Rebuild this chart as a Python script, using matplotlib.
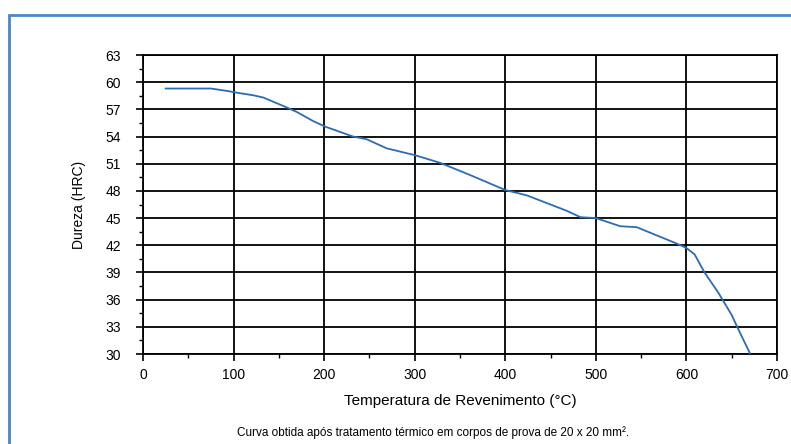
import matplotlib.pyplot as plt
from matplotlib.patches import Rectangle
from matplotlib.ticker import MultipleLocator

plt.rcParams['font.family'] = ['Liberation Sans', 'DejaVu Sans']

# tempering curve
temperatura = [25, 75, 95, 100, 122, 133, 159, 170, 188, 201, 232, 247, 269, 300,
               328, 360, 400, 424, 468, 483, 500, 527, 545, 589, 600, 609, 620,
               635, 650, 656, 670]
dureza = [59.3, 59.3, 59.0, 58.9, 58.55, 58.3, 57.2, 56.7, 55.7, 55.1, 54.0, 53.7,
          52.7, 51.95, 51.1, 49.8, 48.1, 47.5, 45.8, 45.1, 45.0, 44.1, 44.0, 42.2,
          41.7, 41.0, 39.0, 36.8, 34.3, 33.0, 30.1]

x_ticks = [0, 100, 200, 300, 400, 500, 600, 700]
y_ticks = [30, 33, 36, 39, 42, 45, 48, 51, 54, 57, 60, 63]

fig = plt.figure(figsize=(7.91, 4.44), dpi=100)
fig.patch.set_facecolor('white')

# blue frame around the figure (cut off at right/bottom)
frame = Rectangle((9 / 791, -0.2), 1.2, 1 - 15 / 444 + 0.2, transform=fig.transFigure,
                  fill=False, edgecolor='#4a86c8', linewidth=2, clip_on=False)
fig.patches.append(frame)

ax = fig.add_axes([143 / 791, 1 - 354 / 444, (777 - 143) / 791, (354 - 55) / 444])
ax.plot(temperatura, dureza, color='#2a6db5', lw=1.3, zorder=3)

ax.set_xlim(0, 700)
ax.set_ylim(30, 63)
ax.set_xticks(x_ticks)
ax.set_yticks(y_ticks)
ax.xaxis.set_minor_locator(MultipleLocator(50))
ax.yaxis.set_minor_locator(MultipleLocator(1.5))
ax.tick_params(which='major', length=5, width=1.2, color='black', labelsize=10)
ax.tick_params(axis='y', which='major', pad=11)
ax.tick_params(axis='x', which='major', pad=5)
ax.tick_params(which='minor', length=3, width=1.0, color='black')
ax.grid(which='major', color='black', lw=1.3)
for s in ax.spines.values():
    s.set_linewidth(1.3)
    s.set_color('black')

ax.set_xlabel('Temperatura de Revenimento (°C)', fontsize=11, labelpad=9)
ax.set_ylabel('Dureza (HRC)', fontsize=10, labelpad=14)

fig.text(433 / 791, 1 - 433 / 444,
         'Curva obtida após tratamento térmico em corpos de prova de 20 x 20 mm².',
         ha='center', va='center', fontsize=8.5)

fig.savefig('out.png', dpi=100)
